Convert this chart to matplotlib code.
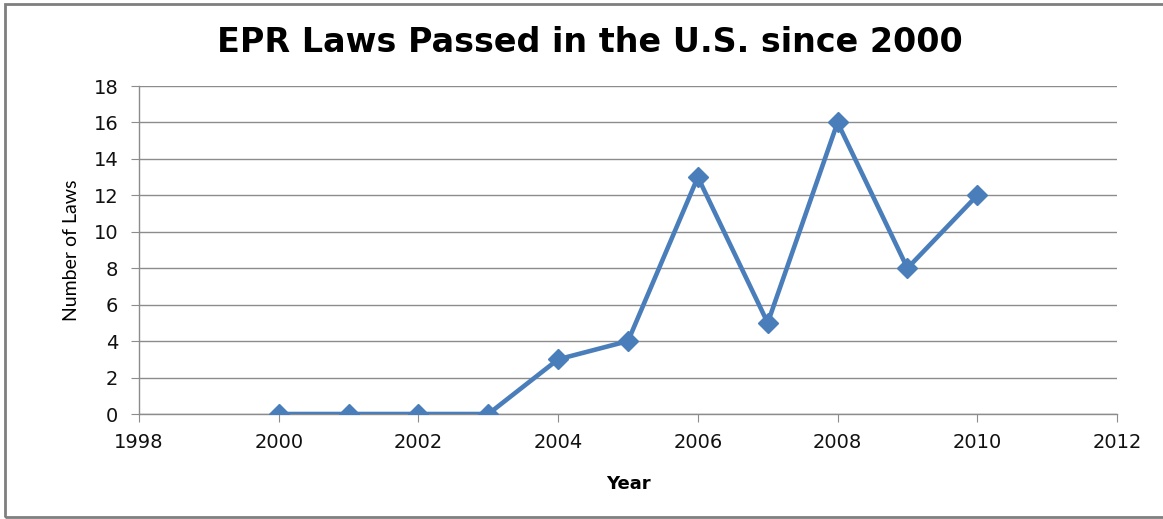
import matplotlib.pyplot as plt
from matplotlib.patches import Rectangle

# data
years = [2000, 2001, 2002, 2003, 2004, 2005, 2006, 2007, 2008, 2009, 2010]
laws = [0, 0, 0, 0, 3, 4, 13, 5, 16, 8, 12]
x_ticks = [1998, 2000, 2002, 2004, 2006, 2008, 2010, 2012]
y_ticks = [0, 2, 4, 6, 8, 10, 12, 14, 16, 18]

fig = plt.figure(figsize=(11.63, 5.19), dpi=100)
ax = fig.add_axes([139 / 1163, 1 - 414 / 519, (1117 - 139) / 1163, (414 - 86) / 519])

grey = '#8c8c8c'
ax.plot(years, laws, color='#4a7ebb', lw=3.3, marker='D', markersize=10, zorder=3)

ax.set_xlim(1998, 2012)
ax.set_ylim(0, 18)
ax.set_xticks(x_ticks)
ax.set_yticks(y_ticks)
ax.grid(axis='y', color=grey, lw=1)
ax.set_axisbelow(True)

for s in ['top', 'right']:
    ax.spines[s].set_visible(False)
for s in ['left', 'bottom']:
    ax.spines[s].set_color(grey)
    ax.spines[s].set_linewidth(1)
ax.tick_params(direction='out', length=6, color=grey, labelsize=14, labelcolor='#111111')
ax.tick_params(axis='x', pad=8)
ax.tick_params(axis='y', pad=9)

ax.set_xlabel('Year', fontsize=13, fontweight='bold', labelpad=16)
ax.set_ylabel('Number of Laws', fontsize=14, family=['Liberation Sans Narrow', 'Lato'], labelpad=10)

fig.text(590 / 1163, 1 - 43 / 519, 'EPR Laws Passed in the U.S. since 2000',
         ha='center', va='center', fontsize=24, fontweight='bold', family='DejaVu Sans')

# outer chart frame (right edge cut off in the original)
fig.patches.append(Rectangle((5 / 1163, 2 / 519), 1.1, 513 / 519, transform=fig.transFigure,
                             fill=False, edgecolor='#7f7f7f', lw=2))

fig.savefig('out.png', dpi=100)
